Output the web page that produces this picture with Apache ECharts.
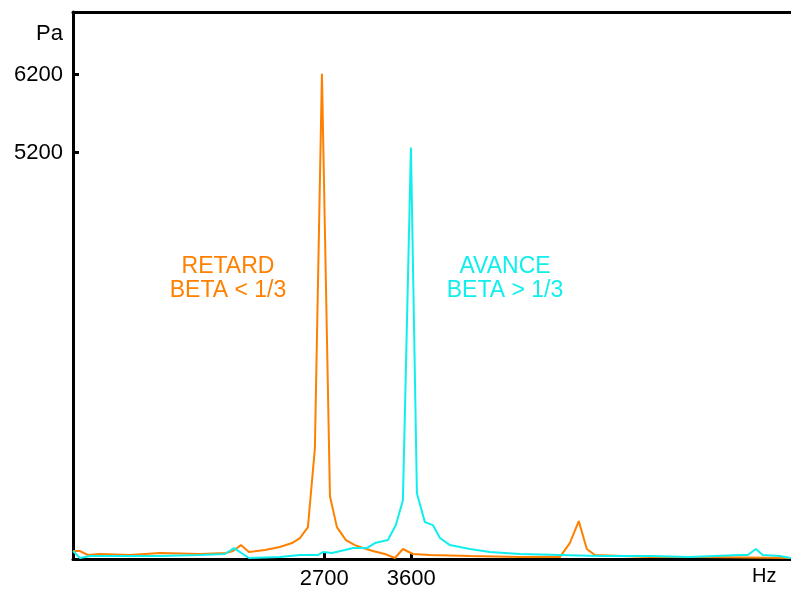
<!DOCTYPE html>
<html>
<head>
<meta charset="utf-8">
<script src="https://cdn.jsdelivr.net/npm/echarts@6/dist/echarts.min.js"></script>
<style>html,body{margin:0;padding:0;background:#fff;}#c{width:791px;height:590px;}</style>
</head>
<body>
<div id="c"></div>
<script>
// Frequency axis ticks (Hz) and pressure ticks (Pa)
const xTicks = [2700, 3600];
const yTicks = [5200, 6200];

// RETARD (BETA < 1/3) — orange
const retardHz = [100, 172, 255, 379, 690, 1000, 1414, 1683, 1755, 1838, 1921, 2086, 2241, 2366, 2448, 2531, 2603, 2676, 2759, 2831, 2924, 3017, 3100, 3204, 3328, 3431, 3514, 3617, 3793, 4207, 4724, 5138, 5241, 5334, 5417, 5500, 6069, 6586, 7530];
const retardPa = [102, 102, 51, 64, 51, 76, 64, 76, 102, 178, 89, 115, 153, 204, 268, 408, 1415, 6210, 803, 408, 242, 178, 140, 102, 64, 13, 128, 64, 51, 38, 25, 25, 204, 485, 128, 51, 25, 25, 13];

// AVANCE (BETA > 1/3) — cyan
const avanceHz = [100, 172, 276, 690, 1000, 1414, 1672, 1766, 1921, 2241, 2448, 2634, 2686, 2779, 2914, 2997, 3141, 3224, 3359, 3441, 3514, 3597, 3659, 3741, 3824, 3897, 4000, 4103, 4207, 4414, 4724, 5138, 5552, 6069, 6483, 7000, 7083, 7166, 7238, 7414, 7530];
const avancePa = [102, 13, 38, 38, 38, 51, 64, 140, 13, 25, 51, 51, 89, 76, 115, 140, 140, 204, 242, 434, 752, 5266, 842, 472, 434, 268, 178, 153, 128, 89, 64, 51, 38, 38, 25, 51, 51, 128, 51, 38, 13];

const orange = '#ff8000';
const cyan = '#11eeee';
const font = '"Liberation Sans", Arial, sans-serif';

const chart = echarts.init(document.getElementById('c'), null, {renderer: 'canvas'});
const pair = (xs, ys) => xs.map((x, i) => [x, ys[i]]);
const plain = v => String(v);

chart.setOption({
  animation: false,
  backgroundColor: '#fff',
  grid: {left: 73, right: 0, top: 12, bottom: 29, containLabel: false},
  xAxis: [{
    type: 'value', min: 100, max: 7530, position: 'bottom',
    axisLine: {show: true, onZero: false, lineStyle: {color: '#000', width: 3}},
    axisTick: {show: true, inside: true, length: 6, customValues: xTicks, lineStyle: {color: '#000', width: 3}},
    axisLabel: {show: true, customValues: xTicks, formatter: plain, margin: 9, color: '#000', fontSize: 22, fontFamily: font},
    splitLine: {show: false}
  }, {
    type: 'value', min: 100, max: 7530, position: 'top',
    axisLine: {show: true, onZero: false, lineStyle: {color: '#000', width: 3}},
    axisTick: {show: false}, axisLabel: {show: false}, splitLine: {show: false}
  }],
  yAxis: {
    type: 'value', min: 0, max: 7000,
    axisLine: {show: true, onZero: false, lineStyle: {color: '#000', width: 3}},
    axisTick: {show: true, inside: true, length: 6, customValues: yTicks, lineStyle: {color: '#000', width: 3}},
    axisLabel: {show: true, customValues: yTicks, formatter: plain, margin: 10, color: '#000', fontSize: 22, fontFamily: font},
    splitLine: {show: false}
  },
  series: [{
    type: 'line', name: 'RETARD', data: pair(retardHz, retardPa), showSymbol: false, symbol: 'none',
    lineStyle: {color: orange, width: 2}, itemStyle: {color: orange}
  }, {
    type: 'line', name: 'AVANCE', data: pair(avanceHz, avancePa), showSymbol: false, symbol: 'none',
    lineStyle: {color: cyan, width: 2}, itemStyle: {color: cyan}
  }],
  graphic: [
    {type: 'text', left: 36, top: 23, style: {text: 'Pa', fill: '#000', font: '22px ' + font}},
    {type: 'text', left: 752, top: 566, style: {text: 'Hz', fill: '#000', font: '20px ' + font}},
    {type: 'text', x: 228, y: 279, style: {text: 'RETARD\nBETA < 1/3', fill: orange, font: '23px ' + font, align: 'center', verticalAlign: 'middle', lineHeight: 24}},
    {type: 'text', x: 505, y: 279, style: {text: 'AVANCE\nBETA > 1/3', fill: cyan, font: '23px ' + font, align: 'center', verticalAlign: 'middle', lineHeight: 24}}
  ]
});
</script>
</body>
</html>
